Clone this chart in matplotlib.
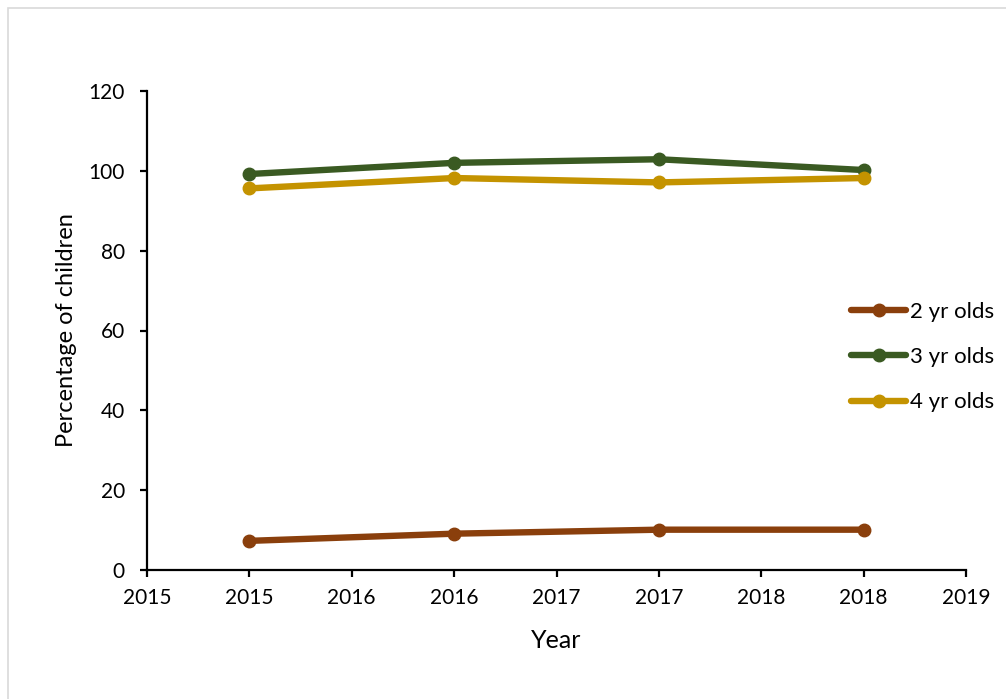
import matplotlib
matplotlib.use("Agg")
import matplotlib.pyplot as plt
from matplotlib.patches import Rectangle

years = [2015, 2016, 2017, 2018]
two_yr = [7.3, 9.1, 10.1, 10.1]
three_yr = [99.2, 102.0, 102.9, 100.2]
four_yr = [95.6, 98.2, 97.1, 98.2]
series_names = ["2 yr olds", "3 yr olds", "4 yr olds"]
colors = ["#8A3F0C", "#3A5A22", "#C49300"]
x_ticks = [2014.5, 2015, 2015.5, 2016, 2016.5, 2017, 2017.5, 2018, 2018.5]
x_tick_labels = ["2015", "2015", "2016", "2016", "2017", "2017", "2018", "2018", "2019"]
y_ticks = [0, 20, 40, 60, 80, 100, 120]

plt.rcParams['font.family'] = ['Lato', 'DejaVu Sans']

W, H = 1006, 699
fig = plt.figure(figsize=(W / 100, H / 100), dpi=100)
fig.patches.append(Rectangle((8 / W, -0.1), 1.2, 1 - 8 / H + 0.1, transform=fig.transFigure,
                             fill=False, edgecolor="#D9D9D9", linewidth=1.2))

ax = fig.add_axes([147 / W, 1 - 570 / H, (966 - 147) / W, (570 - 91) / H])
for vals, name, c in zip([two_yr, three_yr, four_yr], series_names, colors):
    ax.plot(years, vals, color=c, linewidth=4.6, marker='o', markersize=9,
            solid_capstyle='round', label=name)

ax.set_xlim(2014.5, 2018.5)
ax.set_ylim(0, 120)
ax.set_xticks(x_ticks)
ax.set_xticklabels(x_tick_labels)
ax.set_yticks(y_ticks)
for s in ['top', 'right']:
    ax.spines[s].set_visible(False)
for s in ['left', 'bottom']:
    ax.spines[s].set_linewidth(1.6)
    ax.spines[s].set_color('black')
ax.tick_params(axis='both', direction='out', length=5, width=1.6, labelsize=15, colors='black')
ax.tick_params(axis='x', pad=8)
ax.tick_params(axis='y', pad=11)
ax.set_xlabel("Year", fontsize=18, labelpad=15)
ax.set_ylabel("Percentage of children", fontsize=17, labelpad=8)

leg = ax.legend(loc='upper left', bbox_to_anchor=(0.86, 0.56), frameon=False, fontsize=16,
                handlelength=2.45, handletextpad=0.2, labelspacing=1.14, borderaxespad=0,
                borderpad=0)

fig.savefig("out.png", dpi=100)
